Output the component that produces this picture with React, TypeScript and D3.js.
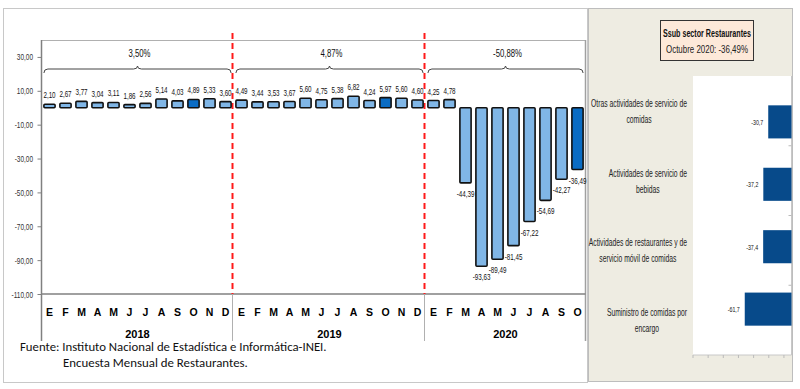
import { useEffect, useRef } from "react"
import * as d3 from "d3"

// monthly variation (%) of the restaurant sub-sector
const monthLabels = ["E", "F", "M", "A", "M", "J", "J", "A", "S", "O", "N", "D"]
const years = ["2018", "2019", "2020"]
const values2018 = [2.1, 2.67, 3.77, 3.04, 3.11, 1.86, 2.56, 5.14, 4.03, 4.89, 5.33, 3.6]
const values2019 = [4.49, 3.44, 3.53, 3.67, 5.6, 4.75, 5.38, 6.82, 4.24, 5.97, 5.6, 4.6]
const values2020 = [4.25, 4.78, -44.39, -93.63, -89.49, -81.45, -67.22, -54.69, -42.27, -36.49]
const yearTotals = ["3,50%", "4,87%", "-50,88%"]
const yTicks = [30, 10, -10, -30, -50, -70, -90, -110]

// October 2020 by activity
const activities = [
  ["Otras actividades de servicio de", "comidas"],
  ["Actividades de servicio de", "bebidas"],
  ["Actividades de restaurantes y de", "servicio móvil de comidas"],
  ["Suministro de comidas por", "encargo"],
]
const activityValues = [-30.7, -37.2, -37.4, -61.7]

const SANS = "'Liberation Sans', Arial, sans-serif"
const comma = (f: string) => (v: number) => d3.format(f)(v).replace(".", ",").replace("−", "-")

// squeeze text horizontally (the original uses narrow fonts)
function condense(sel: d3.Selection<any, any, any, any>, factor: number) {
  sel.each(function () {
    const t = d3.select(this as SVGTextElement)
    const tx = +t.attr("x") || 0
    const ty = +t.attr("y") || 0
    t.attr("x", 0).attr("y", 0).attr("transform", `translate(${tx},${ty}) scale(${factor},1)`)
  })
}
function fitWidth(sel: d3.Selection<any, any, any, any>, width: number) {
  const w = (sel.node() as SVGTextElement).getComputedTextLength()
  condense(sel, width / w)
}

export default function App() {
  const svgRef = useRef<SVGSVGElement>(null)

  useEffect(() => {
    if (!svgRef.current) return
    const svg = d3.select(svgRef.current)
    svg.selectAll("*").remove()

    const series = [values2018, values2019, values2020]
    const data = series.flatMap((vals, yi) =>
      vals.map((v, mi) => ({ key: `${years[yi]}-${mi}`, month: monthLabels[mi], year: yi, m: mi, value: v }))
    )

    // frames
    svg.append("rect").attr("x", 3.5).attr("y", 8.5).attr("width", 584).attr("height", 374)
      .attr("fill", "white").attr("stroke", "#c8c8c8")
    svg.append("rect").attr("x", 588.5).attr("y", 8.5).attr("width", 204).attr("height", 373)
      .attr("fill", "#eeece2").attr("stroke", "#bdbdbd")

    // ---------- left chart ----------
    const left = 41.5, right = 585.5, top = 40, bottom = 294
    const x = d3.scaleBand<string>().domain(data.map((d) => d.key)).range([left, right]).paddingInner(0.3).paddingOuter(0.15)
    const step = x.step()
    const y = d3.scaleLinear().domain([-110, 40]).range([bottom, top])

    // plot border
    svg.append("line").attr("x1", left).attr("x2", right).attr("y1", top + 0.5).attr("y2", top + 0.5).attr("stroke", "#b0b0b0")
    svg.append("line").attr("x1", right).attr("x2", right).attr("y1", top).attr("y2", 341).attr("stroke", "#a0a0a0").attr("stroke-width", 1.5)

    // y axis
    const yAxis = d3.axisLeft(y).tickValues(yTicks).tickSize(4).tickPadding(0).tickFormat((d) => comma(".2f")(d as number))
    const ya = svg.append("g").attr("transform", `translate(${left},0)`).call(yAxis)
    ya.select(".domain").remove()
    ya.selectAll("line").attr("stroke", "#808080")
    const yt = ya.selectAll("text").attr("font-family", SANS).attr("font-size", 8.5).attr("fill", "#333")
      .attr("x", -8.5).attr("dy", null).attr("y", 3)
    condense(yt, 0.76)
    svg.append("line").attr("x1", left).attr("x2", left).attr("y1", top).attr("y2", 341).attr("stroke", "#808080").attr("stroke-width", 1.5)
    svg.append("line").attr("x1", left).attr("x2", right).attr("y1", bottom).attr("y2", bottom).attr("stroke", "#808080").attr("stroke-width", 1.5)

    // year separators (category axis)
    const boundary = (i: number) => left + step * (i * 12)
    ;[1, 2].forEach((i) => {
      svg.append("line").attr("x1", boundary(i) - 1).attr("x2", boundary(i) - 1).attr("y1", bottom).attr("y2", 341)
        .attr("stroke", "#b0b0b0")
      svg.append("line").attr("x1", boundary(i) - 1).attr("x2", boundary(i) - 1).attr("y1", 33).attr("y2", bottom)
        .attr("stroke", "#ff1a1a").attr("stroke-width", 2).attr("stroke-dasharray", "6,4")
    })

    // bars
    svg.append("g").selectAll("rect").data(data).enter().append("rect")
      .attr("x", (d) => x(d.key)!)
      .attr("width", x.bandwidth())
      .attr("y", (d) => y(Math.max(0, d.value)))
      .attr("height", (d) => Math.abs(y(d.value) - y(0)))
      .attr("fill", (d) => (d.m === 9 ? "#0a6cc4" : "#80b6e6"))
      .attr("stroke", "#111")
      .attr("stroke-width", 1.6)
      .attr("rx", 1)

    // value labels
    const vl = svg.append("g").selectAll("text").data(data).enter().append("text")
      .attr("x", (d) => x(d.key)! + x.bandwidth() / 2)
      .attr("y", (d) => (d.value >= 0 ? y(d.value) - 6 : y(d.value) + 14))
      .attr("text-anchor", "middle")
      .attr("font-family", SANS).attr("font-size", 9.5).attr("fill", "#111")
      .text((d) => comma(".2f")(d.value))
    condense(vl, 0.66)

    // month labels
    svg.append("g").selectAll("text").data(data).enter().append("text")
      .attr("x", (d) => x(d.key)! + x.bandwidth() / 2)
      .attr("y", 316)
      .attr("text-anchor", "middle")
      .attr("font-family", SANS).attr("font-size", 10.5).attr("font-weight", "bold").attr("fill", "#000")
      .text((d) => d.month)

    // year labels, braces and totals
    years.forEach((yr, yi) => {
      const items = data.filter((d) => d.year === yi)
      const x0 = x(items[0].key)!
      const x1 = x(items[items.length - 1].key)! + x.bandwidth()
      const xm = (x0 + x1) / 2
      svg.append("text").attr("x", xm).attr("y", 338).attr("text-anchor", "middle")
        .attr("font-family", SANS).attr("font-size", 11).attr("font-weight", "bold")
        .text(yr)
      const by = 69
      const path = d3.path()
      path.moveTo(x0, by + 4)
      path.quadraticCurveTo(x0, by, x0 + 4, by)
      path.lineTo(xm - 4, by)
      path.quadraticCurveTo(xm, by, xm, by - 3)
      path.quadraticCurveTo(xm, by, xm + 4, by)
      path.lineTo(x1 - 4, by)
      path.quadraticCurveTo(x1, by, x1, by + 4)
      svg.append("path").attr("d", path.toString()).attr("fill", "none").attr("stroke", "#444").attr("stroke-width", 1)
      const tt = svg.append("text").attr("x", xm + 2).attr("y", 57).attr("text-anchor", "middle")
        .attr("font-family", SANS).attr("font-size", 10.5).attr("fill", "#111")
        .text(yearTotals[yi])
      condense(tt, 0.74)
    })

    // source note
    fitWidth(svg.append("text").attr("x", 20).attr("y", 351)
      .attr("font-family", "Carlito, 'Liberation Sans', sans-serif").attr("font-size", 12).attr("fill", "#111")
      .text("Fuente:  Instituto  Nacional  de  Estadística  e  Informática-INEI."), 307)
    fitWidth(svg.append("text").attr("x", 63).attr("y", 367)
      .attr("font-family", "Carlito, 'Liberation Sans', sans-serif").attr("font-size", 12).attr("fill", "#111")
      .text("Encuesta  Mensual  de   Restaurantes."), 185)

    // ---------- right panel ----------
    svg.append("rect").attr("x", 660.5).attr("y", 20.5).attr("width", 93).attr("height", 40)
      .attr("fill", "#fde9d9").attr("stroke", "#333")
    const st1 = svg.append("text").attr("x", 707).attr("y", 37).attr("text-anchor", "middle")
      .attr("font-family", SANS).attr("font-size", 10.5).attr("font-weight", "bold").attr("fill", "#111")
      .text("Ssub sector Restaurantes")
    fitWidth(st1, 88)
    const st2 = svg.append("text").attr("x", 707).attr("y", 53).attr("text-anchor", "middle")
      .attr("font-family", SANS).attr("font-size", 10.5).attr("fill", "#222")
      .text("Octubre 2020: -36,49%")
    fitWidth(st2, 82)

    const pl = 693, pr = 791.5, pt = 76, pb = 355
    svg.append("rect").attr("x", pl).attr("y", pt).attr("width", pr - pl).attr("height", pb - pt).attr("fill", "white")
    svg.append("line").attr("x1", pr).attr("x2", pr).attr("y1", pt).attr("y2", pb).attr("stroke", "#c8c8c8")
    svg.append("line").attr("x1", pl).attr("x2", pr).attr("y1", pb).attr("y2", pb).attr("stroke", "#c8c8c8")

    const hx = d3.scaleLinear().domain([-130, 0]).range([pl, pr])
    const hy = d3.scaleBand<number>().domain(d3.range(activities.length)).range([pt, pb]).padding(0.47)
    const band = (pb - pt) / activities.length

    // axis ticks
    d3.range(-130, 0, 20).forEach((t) => {
      svg.append("line").attr("x1", hx(t)).attr("x2", hx(t)).attr("y1", pb).attr("y2", pb + 3).attr("stroke", "#bbb")
    })
    d3.range(1, activities.length).forEach((i) => {
      svg.append("line").attr("x1", pr - 3).attr("x2", pr).attr("y1", pt + i * band).attr("y2", pt + i * band).attr("stroke", "#bbb")
    })

    const hb = svg.append("g").selectAll("g").data(activityValues).enter().append("g")
    hb.append("rect")
      .attr("x", (d) => hx(d))
      .attr("y", (d, i) => hy(i)!)
      .attr("width", (d) => hx(0) - hx(d))
      .attr("height", hy.bandwidth())
      .attr("fill", "#074a8a")
    const hl = hb.append("text")
      .attr("x", (d) => hx(d) - 5)
      .attr("y", (d, i) => hy(i)! + hy.bandwidth() / 2 + 3)
      .attr("text-anchor", "end")
      .attr("font-family", SANS).attr("font-size", 8).attr("fill", "#111")
      .text((d) => comma(".1f")(d))
    condense(hl, 0.66)

    // category labels: first line ends at the plot edge, second line centred below it
    const f = 0.645
    activities.forEach((lines, i) => {
      const cy = pt + band * (i + 0.5)
      const t1 = svg.append("text").attr("x", 687).attr("y", cy - 4).attr("text-anchor", "end")
        .attr("font-family", SANS).attr("font-size", 10.5).attr("fill", "#222")
        .text(lines[0])
      const w = (t1.node() as SVGTextElement).getComputedTextLength() * f
      condense(t1, f)
      const t2 = svg.append("text").attr("x", 687 - w / 2).attr("y", cy + 12).attr("text-anchor", "middle")
        .attr("font-family", SANS).attr("font-size", 10.5).attr("fill", "#222")
        .text(lines[1])
      condense(t2, f)
    })
  }, [])

  return (
    <div style={{ position: "fixed", left: 0, top: 0, width: 800, height: 389, background: "white" }}>
      <svg ref={svgRef} width={800} height={389} style={{ display: "block" }}></svg>
    </div>
  )
}
